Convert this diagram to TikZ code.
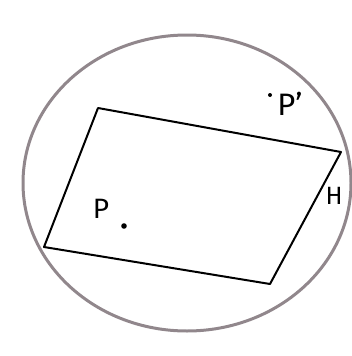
\documentclass[tikz,border=0pt]{standalone}
\usepackage{fontspec}
\setmainfont{Fira Sans}
\definecolor{rimgray}{RGB}{145,135,140}
\tikzset{
  rim/.style={draw=rimgray,line width=3pt},
  plane/.style={draw=black,line width=2pt,line join=round},
  lbl/.style={font=\fontsize{28}{30}\selectfont,inner sep=0pt}
}
\begin{document}
\begin{tikzpicture}[x=1pt,y=-1pt]
  \useasboundingbox (0,0) rectangle (352,356);
  \draw[rim] (187,183) ellipse [x radius=164,y radius=148];

  \coordinate (A) at (98,108);
  \coordinate (B) at (341,152);
  \coordinate (C) at (270,284);
  \coordinate (D) at (44,247);
  \draw[plane] (A) -- (B) -- (C) -- (D) -- cycle;

  \fill (270,95) circle (2pt);
  \node[lbl,font=\fontsize{31}{33}\selectfont] (pp) at (290,104) {P’};
  \fill (124,226) circle (2.8pt);
  \node[lbl] (p) at (101,209) {P};
  \node[lbl,font=\fontsize{25}{27}\selectfont] (h) at (334,196) {H};
\end{tikzpicture}
\end{document}
